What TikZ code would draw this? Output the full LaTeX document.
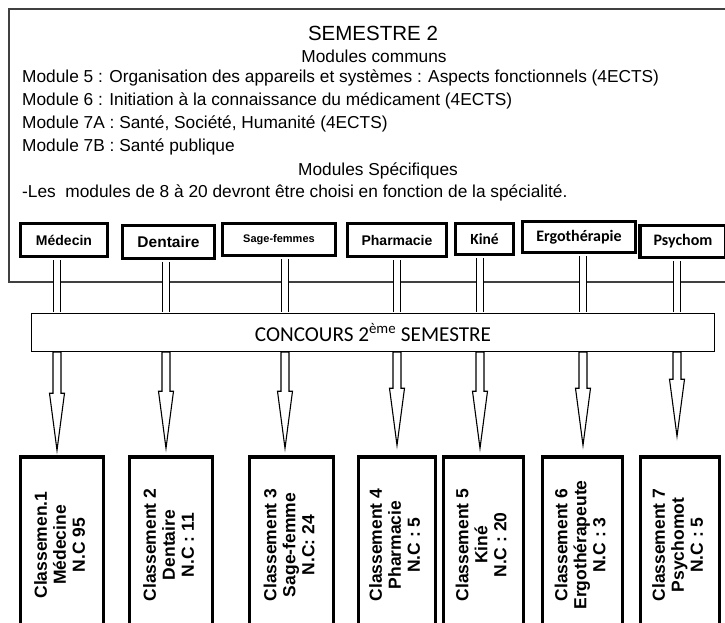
\documentclass[tikz,border=0pt]{standalone}
\usepackage{fontspec}
\setmainfont{Liberation Sans}
\newfontfamily\carlito{Carlito}
\usetikzlibrary{positioning, calc}
\tikzstyle{frame} = [rectangle, draw=black!75, line width=1.6pt, inner sep=0pt]
\tikzstyle{title} = [inner sep=0pt, font=\fontsize{20.5}{24}\selectfont]
\tikzstyle{heading} = [inner sep=0pt, font=\fontsize{17.3}{19}\selectfont]
\tikzstyle{moduleline} = [inner sep=0pt, anchor=west, font=\fontsize{17.3}{19}\selectfont]
\tikzstyle{speciality} = [rectangle, draw=black, line width=3.5pt, fill=white, inner sep=0pt, minimum height=33pt]
\tikzstyle{concours} = [rectangle, draw=black, line width=1.2pt, fill=white, minimum width=683pt, minimum height=38pt, font=\carlito\fontsize{21.2}{24}\selectfont]
\tikzstyle{ranking} = [rectangle, draw=black, line width=3.5pt, minimum height=176pt, inner sep=0pt, font=\bfseries\fontsize{17.5}{19}\selectfont]
\tikzstyle{pipe} = [draw=black, line width=1.2pt, double=white, double distance=5.5pt, shorten <=1.75pt, shorten >=0.6pt]
\tikzstyle{hollow} = [draw=black, line width=1.1pt, fill=white, to path={let \p1=(\tikztostart), \p2=(\tikztotarget) in -- (\x1-4pt,\y1) -- (\x1-4pt,\y2+57pt) -- (\x1-7.5pt,\y2+57pt) -- (\x1,\y2) -- (\x1+7.5pt,\y2+57pt) -- (\x1+4pt,\y2+57pt) -- (\x1+4pt,\y1) -- cycle}]
\newcommand{\rankingtext}[3]{\rotatebox{90}{\begin{tabular}{@{}c@{}}#1\\#2\\#3\end{tabular}}}

\begin{document}
\begin{tikzpicture}[x=1pt, y=1pt]
    \useasboundingbox (0,0) rectangle (725,-623);
    \clip (0,0) rectangle (725,-623);
    \node (sem) [frame, anchor=north west, minimum width=740pt, minimum height=273pt] at (8,-8) {};
    \node (semtitle) [title] at (373,-33) {SEMESTRE 2};
    \node (communs) [heading] at (374,-56) {Modules communs};
    \node (mod5) [moduleline] at (22,-78) {Module 5 : Organisation des appareils et systèmes : Aspects fonctionnels (4ECTS)};
    \node (mod6) [moduleline] at (22,-101) {Module 6 : Initiation à la connaissance du médicament (4ECTS)};
    \node (mod7a) [moduleline] at (22,-124) {Module 7A : Santé, Société, Humanité (4ECTS)};
    \node (mod7b) [moduleline] at (22,-147) {Module 7B : Santé publique};
    \node (specifiques) [heading] at (378,-171) {Modules Spécifiques};
    \node (choix) [moduleline] at (22,-193) {-Les\ \ modules de 8 à 20 devront être choisi en fonction de la spécialité.};

    \node (bar) [concours] at (373,-332.5) {CONCOURS 2\textsuperscript{ème} SEMESTRE};

    \node (med) [speciality, minimum width=87pt, font=\bfseries\fontsize{14}{16}\selectfont] at (64,-240) {Médecin};
    \node (dent) [speciality, minimum width=92pt, font=\bfseries\fontsize{15.5}{18}\selectfont] at (168.5,-242) {Dentaire};
    \node (sage) [speciality, minimum width=113pt, minimum height=32pt, font=\bfseries\fontsize{11}{13}\selectfont] at (279,-239.5) {Sage-femmes};
    \node (pharm) [speciality, minimum width=99pt, font=\bfseries\fontsize{14}{17}\selectfont] at (397,-240) {Pharmacie};
    \node (kine) [speciality, minimum width=58pt, minimum height=31pt, font=\carlito\bfseries\fontsize{15.5}{18}\selectfont] at (484.5,-239) {Kiné};
    \node (ergo) [speciality, minimum width=113pt, minimum height=31pt, font=\carlito\bfseries\fontsize{16}{18}\selectfont] at (579,-237) {Ergothérapie};
    \node (psy) [speciality, minimum width=86pt, minimum height=32pt, font=\carlito\bfseries\fontsize{16}{18}\selectfont] at (683,-241.5) {Psychom};

    \node (c1) [ranking, minimum width=83pt] at (62,-545) {\rankingtext{Classemen.1}{Médecine}{N.C 95}};
    \node (c2) [ranking, minimum width=83pt] at (171,-545) {\rankingtext{Classement 2}{Dentaire}{N.C : 11}};
    \node (c3) [ranking, minimum width=84pt] at (291.5,-545) {\rankingtext{Classement 3}{Sage-femme}{N.C: 24}};
    \node (c4) [ranking, minimum width=77pt] at (397,-545) {\rankingtext{Classement 4}{Pharmacie}{N.C : 5}};
    \node (c5) [ranking, minimum width=80pt] at (483.5,-545) {\rankingtext{Classement 5}{Kiné}{N.C : 20}};
    \node (c6) [ranking, minimum width=80pt] at (582.5,-545) {\rankingtext{Classement 6}{Ergothérapeute}{N.C : 3}};
    \node (c7) [ranking, minimum width=79pt] at (680,-545) {\rankingtext{Classement 7}{Psychomot}{N.C : 5}};

    \draw [pipe] ([xshift=-7pt]med.south) -- ([xshift=-7pt]med.south |- bar.north);
    \draw [pipe] ([xshift=-2.5pt]dent.south) -- ([xshift=-2.5pt]dent.south |- bar.north);
    \draw [pipe] ([xshift=6pt]sage.south) -- ([xshift=6pt]sage.south |- bar.north);
    \draw [pipe] (pharm.south) -- (pharm.south |- bar.north);
    \draw [pipe] ([xshift=-4.5pt]kine.south) -- ([xshift=-4.5pt]kine.south |- bar.north);
    \draw [pipe] ([xshift=4pt]ergo.south) -- ([xshift=4pt]ergo.south |- bar.north);
    \draw [pipe] ([xshift=-6pt]psy.south) -- ([xshift=-6pt]psy.south |- bar.north);

    \draw [hollow] ([xshift=-7pt]med.south |- bar.south) to ([yshift=5pt]c1.north);
    \draw [hollow] ([xshift=-2.5pt]dent.south |- bar.south) to ([yshift=7pt]c2.north);
    \draw [hollow] ([xshift=6pt]sage.south |- bar.south) to ([yshift=7pt]c3.north);
    \draw [hollow] (pharm.south |- bar.south) to ([yshift=10pt]c4.north);
    \draw [hollow] ([xshift=-4.5pt]kine.south |- bar.south) to ([yshift=7pt]c5.north);
    \draw [hollow] ([xshift=4pt]ergo.south |- bar.south) to ([yshift=10pt]c6.north);
    \draw [hollow] ([xshift=-6pt]psy.south |- bar.south) to ([yshift=19pt]c7.north);
\end{tikzpicture}
\end{document}
